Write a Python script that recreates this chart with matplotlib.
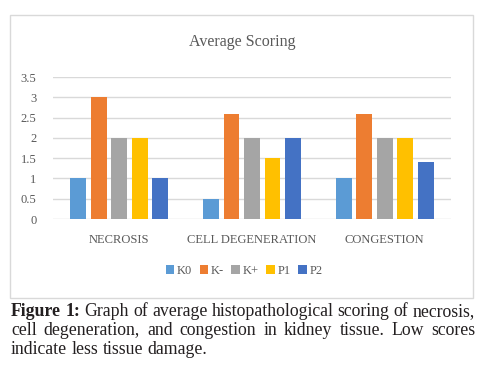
import matplotlib
matplotlib.use("Agg")
import matplotlib.pyplot as plt
import numpy as np
from matplotlib.patches import Rectangle, Patch

categories = ["NECROSIS", "CELL DEGENERATION", "CONGESTION"]
series_names = ["K0", "K-", "K+", "P1", "P2"]
k0 = [1.0, 0.5, 1.0]
k_minus = [3.0, 2.6, 2.6]
k_plus = [2.0, 2.0, 2.0]
p1 = [2.0, 1.5, 2.0]
p2 = [1.0, 2.0, 1.4]
yticks = [0, 0.5, 1, 1.5, 2, 2.5, 3, 3.5]
ytick_labels = ["0", "0.5", "1", "1.5", "2", "2.5", "3", "3.5"]
title = "Average Scoring"
caption_bold = "Figure 1:"
caption_lines = [
    "Graph of average histopathological scoring of necrosis,",
    "cell degeneration, and congestion in kidney tissue. Low scores",
    "indicate less tissue damage.",
]

colors = ["#5B9BD5", "#ED7D31", "#A5A5A5", "#FFC000", "#4472C4"]
text_gray = "#595959"
SERIF = ["Liberation Serif", "DejaVu Serif"]

W, H = 491, 368
fig = plt.figure(figsize=(W / 100, H / 100), dpi=100)
fig.patch.set_facecolor("white")

def fx(x):
    return x / W

def fy(y):
    return 1 - y / H

# chart box
fig.patches.append(Rectangle((fx(10), fy(298)), fx(473) - fx(10), fy(15) - fy(298),
                             transform=fig.transFigure, fill=False,
                             edgecolor="#d9d9d9", linewidth=1.0))

ax = fig.add_axes([fx(53), fy(219), fx(451) - fx(53), fy(77) - fy(219)])
data = [k0, k_minus, k_plus, p1, p2]
x = np.arange(len(categories))
slot = 0.1545
bw = 0.12
for i, (vals, c, name) in enumerate(zip(data, colors, series_names)):
    ax.bar(x + (i - 2) * slot, vals, width=bw, color=c, label=name, zorder=3)
ax.set_xlim(-0.5, len(categories) - 0.5)
ax.set_ylim(0, 3.5)
ax.set_yticks(yticks)
ax.set_yticklabels(ytick_labels, family=SERIF, fontsize=9, color=text_gray)
ax.set_xticks(x)
ax.set_xticklabels(categories, family=SERIF, fontsize=9, color=text_gray)
ax.tick_params(axis="both", length=0)
ax.tick_params(axis="x", pad=11)
ax.tick_params(axis="y", pad=12)
ax.grid(axis="y", color="#d9d9d9", linewidth=1.0, zorder=0)
for s in ax.spines.values():
    s.set_visible(False)

fig.text(fx(242), fy(42), title, ha="center", va="center", family=SERIF,
         fontsize=11.5, color=text_gray)

handles = [Patch(facecolor=c, label=n) for c, n in zip(colors, series_names)]
fig.legend(handles=handles, loc="center", bbox_to_anchor=(fx(244), fy(271)),
           ncol=5, frameon=False, handlelength=0.7, handleheight=0.7,
           handletextpad=0.2, columnspacing=0.6,
           prop={"family": SERIF, "size": 9}, labelcolor=text_gray)

# caption with justification
fig.canvas.draw()
renderer = fig.canvas.get_renderer()
cap_size = 12.8
left, right = 11, 475
baselines = [316, 335, 354]

def width_px(s, weight="normal"):
    t = fig.text(0, 0, s, family=SERIF, fontsize=cap_size, weight=weight)
    w = t.get_window_extent(renderer).width
    t.remove()
    return w

def draw_line(tokens, ybase, justify):
    widths = [width_px(w, wt) for w, wt in tokens]
    total = sum(widths)
    n_gaps = len(tokens) - 1
    if justify and n_gaps > 0:
        gap = (right - left - total) / n_gaps
    else:
        gap = width_px("a b") - width_px("ab")
    xpos = left
    for (w, wt), wd in zip(tokens, widths):
        fig.text(fx(xpos), fy(ybase), w, family=SERIF, fontsize=cap_size,
                 weight=wt, color="#231f20", ha="left", va="baseline")
        xpos += wd + gap

line1 = [(w, "bold") for w in caption_bold.split()] + [(w, "normal") for w in caption_lines[0].split()]
draw_line(line1, baselines[0], True)
draw_line([(w, "normal") for w in caption_lines[1].split()], baselines[1], True)
draw_line([(w, "normal") for w in caption_lines[2].split()], baselines[2], False)

fig.savefig("out.png", dpi=100)
